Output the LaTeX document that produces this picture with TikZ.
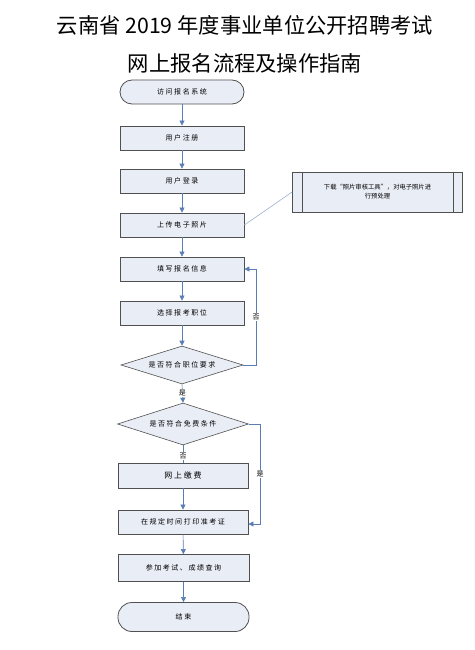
\documentclass[tikz,border=0pt]{standalone}
\usepackage{fontspec}
\setmainfont{Noto Sans CJK SC}
\newfontfamily\boxfont[LetterSpace=22]{Noto Sans CJK SC}
\usetikzlibrary{shapes.geometric,arrows.meta}
\definecolor{boxfill}{HTML}{E9EDF6}
\definecolor{boxdraw}{HTML}{505050}
\definecolor{arrowc}{HTML}{5A7DB5}
\definecolor{linec}{HTML}{9DB0CF}
\tikzset{
  procbox/.style={draw=boxdraw, fill=boxfill, line width=0.8pt, minimum width=124pt, minimum height=24pt, inner sep=0pt, font=\boxfont\fontsize{7}{8}\selectfont},
  termbox/.style={procbox, rounded corners=12pt},
  decbox/.style={draw=boxdraw, fill=boxfill, line width=0.6pt, shape=diamond, aspect=3.2, inner sep=0pt, font=\boxfont\fontsize{7}{8}\selectfont},
  flow/.style={draw=arrowc, line width=0.6pt, -{Triangle[length=5pt,width=5pt]}},
  flowplain/.style={draw=arrowc, line width=0.6pt},
  lbl/.style={fill=white, inner sep=1pt, font=\fontsize{7}{8}\selectfont}
}
\begin{document}
\begin{tikzpicture}[x=1pt,y=-1pt]
\useasboundingbox (0,0) rectangle (474,650);
\node (t1) at (245,25) {\fontsize{21.3}{24}\selectfont 云南省 2019 年度事业单位公开招聘考试};
\node (t2) at (245,63) {\fontsize{21.3}{24}\selectfont 网上报名流程及操作指南};

\node[termbox] (start) at (182,92) {访问报名系统};
\node[procbox] (reg) at (182,138) {用户注册};
\node[procbox] (login) at (182,181) {用户登录};
\node[procbox] (upload) at (182,225) {上传电子照片};
\node[draw=boxdraw, fill=boxfill, line width=0.8pt, minimum width=170pt, minimum height=40pt, inner sep=0pt, align=center, font=\fontsize{6.3}{9}\selectfont] (side) at (377.5,192) {下载“照片审核工具”，对电子照片进\\行预处理};
\draw[boxdraw, line width=0.6pt] ([xshift=10pt]side.north west) -- ([xshift=10pt]side.south west);
\draw[boxdraw, line width=0.6pt] ([xshift=-10pt]side.north east) -- ([xshift=-10pt]side.south east);
\node[procbox] (fill) at (182,269) {填写报名信息};
\node[procbox] (select) at (182,313) {选择报考职位};
\node[decbox, minimum width=122pt, minimum height=38pt] (d1) at (182,365) {是否符合职位要求};
\node[decbox, minimum width=131pt, minimum height=42pt] (d2) at (183,424) {是否符合免费条件};
\node[procbox, minimum width=130pt, minimum height=25pt, font=\boxfont\fontsize{8}{9}\selectfont] (pay) at (183,475.5) {网上缴费};
\node[procbox, minimum width=130pt] (print) at (183,522) {在规定时间打印准考证};
\node[procbox, minimum width=131pt, minimum height=27pt] (exam) at (183.5,568) {参加考试、成绩查询};
\node[termbox, minimum width=131pt, minimum height=29pt, rounded corners=14pt] (end) at (183.5,617) {结束};

\draw[flow] (start) -- (reg);
\draw[flow] (reg) -- (login);
\draw[flow] (login) -- (upload);
\draw[linec, line width=0.6pt] (upload.east) -- (side.west);
\draw[flow] (upload) -- (fill);
\draw[flow] (fill) -- (select);
\draw[flow] (select) -- (d1);
\draw[flow] (d1.south) -- node[lbl, pos=0.45] {是} (d2.north);
\draw[flowplain] (d2.south) -- node[lbl, pos=0.6] {否} (pay.north);
\draw[flow] (pay) -- (print);
\draw[flow] (print) -- (exam);
\draw[flow] (exam) -- (end);
\coordinate (c1) at (256,365);
\coordinate (c2) at (256,269);
\draw[flow] (d1.east) -- (c1) -- node[lbl, pos=0.5] {否} (c2) -- (fill.east);
\coordinate (c3) at (260,424);
\coordinate (c4) at (260,524);
\draw[flow] (d2.east) -- (c3) -- node[lbl, pos=0.5] {是} (c4) -- (print.east |- c4);
\end{tikzpicture}
\end{document}
